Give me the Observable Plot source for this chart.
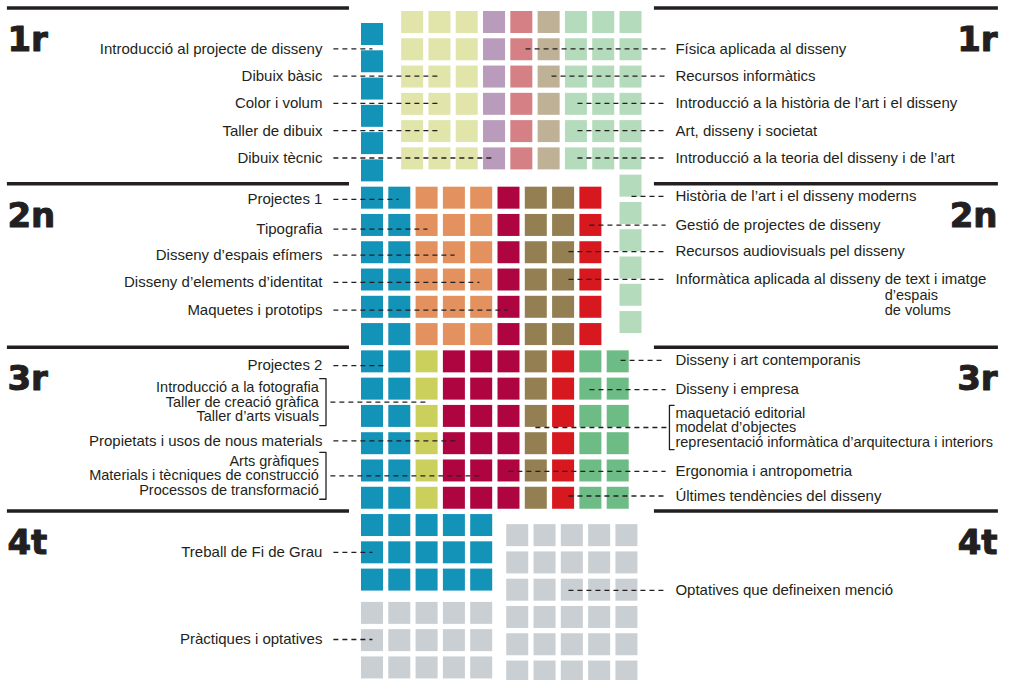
<!DOCTYPE html>
<html>
<head>
<meta charset="utf-8">
<script src="https://cdn.jsdelivr.net/npm/d3@7"></script>
<script src="https://cdn.jsdelivr.net/npm/@observablehq/plot@0.6"></script>
<style>
  html, body { margin: 0; padding: 0; background: #fff; }
  #chart svg { display: block; }
</style>
</head>
<body>
<div id="chart"></div>
<script>
// ================= DATA =================
const years = ["1r", "2n", "3r", "4t"];

// subject areas (colour categories)
const areas = ["Projectes", "Expressió", "Ciència", "Tecnologia", "Societat", "Història",
               "Disseny", "Materials", "Gestió", "Audiovisual", "Instruments", "Contemporani", "Optatives"];
const areaColors = ["#1493b8", "#e1e5a9", "#b99cbb", "#d48084", "#bfb196", "#b4dbbb",
                    "#e3925f", "#ae0540", "#937f51", "#d7181f", "#cbd05d", "#6dbb85", "#cacfd3"];

// columns of squares (one square = one unit) per year
const cols1rA = ["Projectes"];
const counts1rA = [6];
const cols1rB = ["Expressió", "Expressió", "Expressió", "Ciència", "Tecnologia", "Societat", "Història", "Història", "Història"];
const counts1rB = [6, 6, 6, 6, 6, 6, 6, 6, 12];
const cols2n = ["Projectes", "Projectes", "Disseny", "Disseny", "Disseny", "Materials", "Gestió", "Gestió", "Audiovisual"];
const counts2n = [6, 6, 6, 6, 6, 6, 6, 6, 6];
const cols3r = ["Projectes", "Projectes", "Instruments", "Materials", "Materials", "Materials", "Gestió", "Audiovisual", "Contemporani", "Contemporani"];
const counts3r = [6, 6, 6, 6, 6, 6, 6, 6, 6, 6];
const cols4tA = ["Projectes", "Projectes", "Projectes", "Projectes", "Projectes"];
const counts4tA = [3, 3, 3, 3, 3];
const cols4tB = ["Optatives", "Optatives", "Optatives", "Optatives", "Optatives"];
const counts4tB = [3, 3, 3, 3, 3];
const cols4tC = ["Optatives", "Optatives", "Optatives", "Optatives", "Optatives"];
const counts4tC = [6, 6, 6, 6, 6];

// labels
const left1r = ["Introducció al projecte de disseny", "Dibuix bàsic", "Color i volum", "Taller de dibuix", "Dibuix tècnic"];
const right1r = ["Física aplicada al disseny", "Recursos informàtics", "Introducció a la història de l’art i el disseny",
                 "Art, disseny i societat", "Introducció a la teoria del disseny i de l’art"];
const left2n = ["Projectes 1", "Tipografia", "Disseny d’espais efímers", "Disseny d’elements d’identitat", "Maquetes i prototips"];
const right2n = ["Història de l’art i el disseny moderns", "Gestió de projectes de disseny",
                 "Recursos audiovisuals pel disseny", "Informàtica aplicada al disseny de text i imatge"];
const right2nSub = ["d’espais", "de volums"];
const left3r = ["Projectes 2",
                "Introducció a la fotografia\nTaller de creació gràfica\nTaller d’arts visuals",
                "Propietats i usos de nous materials",
                "Arts gràfiques\nMaterials i tècniques de construcció\nProcessos de transformació"];
const right3r = ["Disseny i art contemporanis", "Disseny i empresa",
                 "maquetació editorial\nmodelat d’objectes\nrepresentació informàtica d’arquitectura i interiors",
                 "Ergonomia i antropometria", "Últimes tendències del disseny"];
const left4t = ["Treball de Fi de Grau", "Pràctiques i optatives"];
const right4t = ["Optatives que defineixen menció"];

// ================= LAYOUT (grid units: 1 column, 1 row) =================
const S = 0.806; // square size as fraction of grid step
const blocks = [
  {year: "1r", cols: cols1rA, counts: counts1rA, x0: 0, y0: 0},
  {year: "1r", cols: cols1rB, counts: counts1rB, x0: 1.47, y0: -0.44},
  {year: "2n", cols: cols2n, counts: counts2n, x0: 0, y0: 6},
  {year: "3r", cols: cols3r, counts: counts3r, x0: 0, y0: 12},
  {year: "4t", cols: cols4tA, counts: counts4tA, x0: 0, y0: 18},
  {year: "4t", cols: cols4tB, counts: counts4tB, x0: 0, y0: 21.22},
  {year: "4t", cols: cols4tC, counts: counts4tC, x0: 5.32, y0: 18.37}
];
const cells = [];
blocks.forEach(b => b.cols.forEach((a, i) => {
  for (let j = 0; j < b.counts[i]; j++) cells.push({year: b.year, area: a, c: b.x0 + i, r: b.y0 + j});
}));

const sectionStart = [-0.44, 6, 12, 18];
const ruleRows = sectionStart.map(s => s - 0.13);

const X_LABEL_L = -1.43, X_GROUP_L = -1.56, X_BRACKET_L = -1.30, X_LEAD_L = -1.03, X_LEAD_LB = -1.14;
const X_LABEL_R = 11.50, X_BRACKET_R = 11.28, X_TICK_R = 11.45, X_LEAD_R = 11.14;

// row and target column for each label
const leftRows = [[0.93, 1.93, 2.93, 3.93, 4.93], [6.45, 7.54, 8.49, 9.49, 10.51], [12.54, 13.88, 15.30, 16.58], [19.39, 22.58]];
const leftTo   = [[0.40, 2.89, 2.89, 2.89, 4.87], [1.36, 2.42, 3.41, 4.32, 5.35], [0.88, 2.42, 3.44, 4.43], [0.40, 0.40]];
const rightRows = [[0.93, 1.93, 2.93, 3.93, 4.93], [6.34, 7.39, 8.36, 9.38], [12.35, 13.42, 14.81, 16.42, 17.32], [20.78]];
const rightTo   = [[6.01, 6.96, 7.91, 7.91, 7.91], [9.89, 8.35, 7.58, 7.58], [9.49, 8.35, 6.37, 5.38, 7.58], [7.58]];
const leftTexts = [left1r, left2n, left3r, left4t];
const rightTexts = [right1r, right2n, right3r, right4t];

const labels = [], groupLabels = [], leaders = [], brackets = [];
leftTexts.forEach((arr, s) => arr.forEach((t, i) => {
  const grp = t.includes("\n");
  const y = leftRows[s][i];
  (grp ? groupLabels : labels).push({text: t, x: grp ? X_GROUP_L : X_LABEL_L, y, anchor: "end"});
  leaders.push({x1: grp ? X_LEAD_LB : X_LEAD_L, x2: leftTo[s][i], y});
  if (grp) {
    const h = 0.86, g = "L" + s + i;
    brackets.push({g, x: X_GROUP_L + 0.03, y: y - h}, {g, x: X_BRACKET_L, y: y - h},
                  {g, x: X_BRACKET_L, y: y + h}, {g, x: X_GROUP_L + 0.03, y: y + h});
  }
}));
rightTexts.forEach((arr, s) => arr.forEach((t, i) => {
  const grp = t.includes("\n");
  const y = rightRows[s][i];
  (grp ? groupLabels : labels).push({text: t, x: X_LABEL_R, y, anchor: "start"});
  leaders.push({x1: rightTo[s][i], x2: grp ? X_BRACKET_R : X_LEAD_R, y});
  if (grp) {
    const h = 0.81, g = "R" + s + i;
    brackets.push({g, x: X_TICK_R, y: y - h}, {g, x: X_BRACKET_R, y: y - h},
                  {g, x: X_BRACKET_R, y: y + h}, {g, x: X_TICK_R, y: y + h});
  }
}));

// position of the sub-lines under "…disseny de text i imatge"
const FONT = "Liberation Sans, Arial, Helvetica, sans-serif";
const ctx = document.createElement("canvas").getContext("2d");
ctx.font = "15px " + FONT;
const prefixW = ctx.measureText("Informàtica aplicada al disseny ").width;
const COLW = 27.3;
groupLabels.push({text: right2nSub.join("\n"), x: X_LABEL_R + prefixW / COLW, y: rightRows[1][3] + 0.86, anchor: "start"});

const yearMarks = [];
years.forEach((yr, i) => {
  yearMarks.push({text: yr, x: -12.97, y: ruleRows[i] + 1.58, anchor: "start"});
  yearMarks.push({text: yr, x: 23.30, y: ruleRows[i] + 1.58, anchor: "end"});
});
const rules = [];
ruleRows.forEach(r => { rules.push({y: r, x1: -12.97, x2: -0.44}); rules.push({y: r, x1: 10.73, x2: 23.33}); });

const INK = "#231f20";
const yearStyle = {x: "x", y: "y", text: "text", lineAnchor: "bottom", fontSize: 34, fontWeight: "bold",
  fontFamily: "DejaVu Sans", fill: INK, stroke: INK, strokeWidth: 1};

const chart = Plot.plot({
  width: 1015,
  height: 680,
  margin: 0,
  x: {domain: [-13.223, 23.956], range: [0, 1015], axis: null},
  y: {domain: [0, 24], range: [23, 677.72], axis: null},
  color: {domain: areas, range: areaColors},
  style: {fontFamily: FONT, background: "#fff"},
  marks: [
    Plot.rect(cells, {x1: "c", x2: d => d.c + S, y1: "r", y2: d => d.r + S, fill: "area"}),
    Plot.ruleY(rules, {y: "y", x1: "x1", x2: "x2", stroke: INK, strokeWidth: 3.5}),
    Plot.link(leaders, {x1: "x1", x2: "x2", y1: "y", y2: "y", stroke: INK, strokeWidth: 1.3, strokeDasharray: "5,4"}),
    Plot.line(brackets, {x: "x", y: "y", z: "g", stroke: INK, strokeWidth: 1.3}),
    Plot.text(labels.filter(d => d.anchor === "end"), {x: "x", y: "y", text: "text", textAnchor: "end",
      fontSize: 15, fill: INK}),
    Plot.text(labels.filter(d => d.anchor === "start"), {x: "x", y: "y", text: "text", textAnchor: "start",
      fontSize: 15, fill: INK}),
    Plot.text(groupLabels.filter(d => d.anchor === "end"), {x: "x", y: "y", text: "text", textAnchor: "end",
      fontSize: 14.5, fill: INK, lineHeight: 1.0}),
    Plot.text(groupLabels.filter(d => d.anchor === "start"), {x: "x", y: "y", text: "text", textAnchor: "start",
      fontSize: 14.5, fill: INK, lineHeight: 1.0}),
    Plot.text(yearMarks.filter(d => d.anchor === "start"), {...yearStyle, textAnchor: "start"}),
    Plot.text(yearMarks.filter(d => d.anchor === "end"), {...yearStyle, textAnchor: "end"})
  ]
});
document.getElementById("chart").appendChild(chart);
</script>
</body>
</html>
